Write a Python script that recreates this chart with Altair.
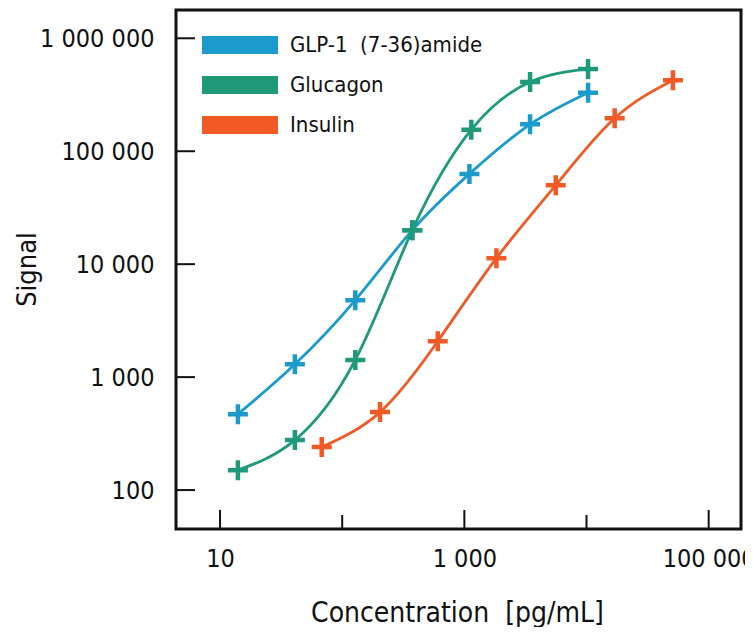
import altair as alt
import pandas as pd

# ---- data ----
series_names = ["GLP-1\u00a0 (7-36)amide", "Glucagon", "Insulin"]
glp1_conc = [14, 41, 128, 375, 1100, 3450, 10300]
glp1_signal = [470, 1300, 4800, 20000, 63000, 173000, 330000]
glucagon_conc = [14, 41, 128, 375, 1140, 3450, 10300]
glucagon_signal = [150, 277, 1420, 20000, 155000, 410000, 535000]
insulin_conc = [68, 204, 606, 1830, 5600, 17000, 51000]
insulin_signal = [240, 490, 2080, 11300, 50000, 196000, 425000]

x_major_ticks = [10, 1000, 100000]
x_minor_ticks = [100, 10000]
y_ticks = [100, 1000, 10000, 100000, 1000000]
colors = ["#1b9bcc", "#1e9a7a", "#f15a24"]

FONT = "DejaVu Sans Condensed, Liberation Sans Narrow, sans-serif"
INK = "#111111"

rows = []
for name, xs, ys in zip(series_names,
                        [glp1_conc, glucagon_conc, insulin_conc],
                        [glp1_signal, glucagon_signal, insulin_signal]):
    for i, (cx, sy) in enumerate(zip(xs, ys)):
        rows.append({"series": name, "conc": cx, "signal": sy, "i": i})
df = pd.DataFrame(rows)

xscale = alt.Scale(type="log", domain=[4.36, 183900], nice=False)
yscale = alt.Scale(type="log", domain=[45.2, 1.78e6], nice=False)
label_expr = "replace(format(datum.value, ','), regexp(',', 'g'), ' ')"

xaxis = alt.Axis(values=x_major_ticks, labelExpr=label_expr, ticks=False, tickSize=0,
                 domain=False, grid=False, labelFont=FONT, labelFontSize=25,
                 labelColor=INK, labelPadding=17, title="Concentration\u00a0 [pg/mL]",
                 titleFont=FONT, titleFontSize=28, titleFontWeight="normal", titleColor=INK,
                 titleX=281, titleY=92, titleBaseline="alphabetic", titleAlign="center")
yaxis = alt.Axis(values=y_ticks, labelExpr=label_expr, ticks=False, tickSize=0,
                 domain=False, grid=False, labelFont=FONT, labelFontSize=25,
                 labelColor=INK, labelPadding=22, title="Signal",
                 titleFont=FONT, titleFontSize=27, titleFontWeight="normal", titleColor=INK,
                 titleX=-141, titleY=259, titleBaseline="alphabetic", titleAlign="center")

color_scale = alt.Scale(domain=series_names, range=colors)

base = alt.Chart(df).encode(
    x=alt.X("conc:Q", scale=xscale, axis=xaxis),
    y=alt.Y("signal:Q", scale=yscale, axis=yaxis),
    order="i:Q",
)

lines = base.mark_line(interpolate="natural", strokeWidth=2.8).encode(
    color=alt.Color("series:N", scale=color_scale, sort=series_names,
                    legend=alt.Legend(title=None, orient="none", legendX=17, legendY=15,
                                      symbolType="M-1,0H7", symbolSize=361,
                                      symbolStrokeWidth=18, labelFont=FONT,
                                      labelFontSize=22, labelColor=INK, labelOffset=60,
                                      labelLimit=400, rowPadding=0, padding=0,
                                      clipHeight=40))
)

points = base.mark_point(shape="M-1,0H1M0,-1V1", size=400, strokeWidth=4.5,
                         filled=False, opacity=1).encode(
    color=alt.Color("series:N", scale=color_scale, legend=None)
)

xmaj = alt.Chart(pd.DataFrame({"v": x_major_ticks})).mark_rule(color=INK, strokeWidth=2).encode(
    x=alt.X("v:Q", scale=xscale), y=alt.value(519), y2=alt.value(500))
xmin = alt.Chart(pd.DataFrame({"v": x_minor_ticks})).mark_rule(color=INK, strokeWidth=2).encode(
    x=alt.X("v:Q", scale=xscale), y=alt.value(519), y2=alt.value(505))
ytk = alt.Chart(pd.DataFrame({"v": y_ticks})).mark_rule(color=INK, strokeWidth=2).encode(
    y=alt.Y("v:Q", scale=yscale), x=alt.value(0), x2=alt.value(19))

chart = alt.layer(lines, points, xmaj, xmin, ytk).properties(
    width=565, height=519,
    autosize=alt.AutoSizeParams(type="none"),
    padding={"left": 168, "top": 2, "right": 4, "bottom": 98},
    background="white",
).configure_view(stroke=INK, strokeWidth=3)

chart.save("out.html", embed_options={"renderer": "svg", "actions": False})
